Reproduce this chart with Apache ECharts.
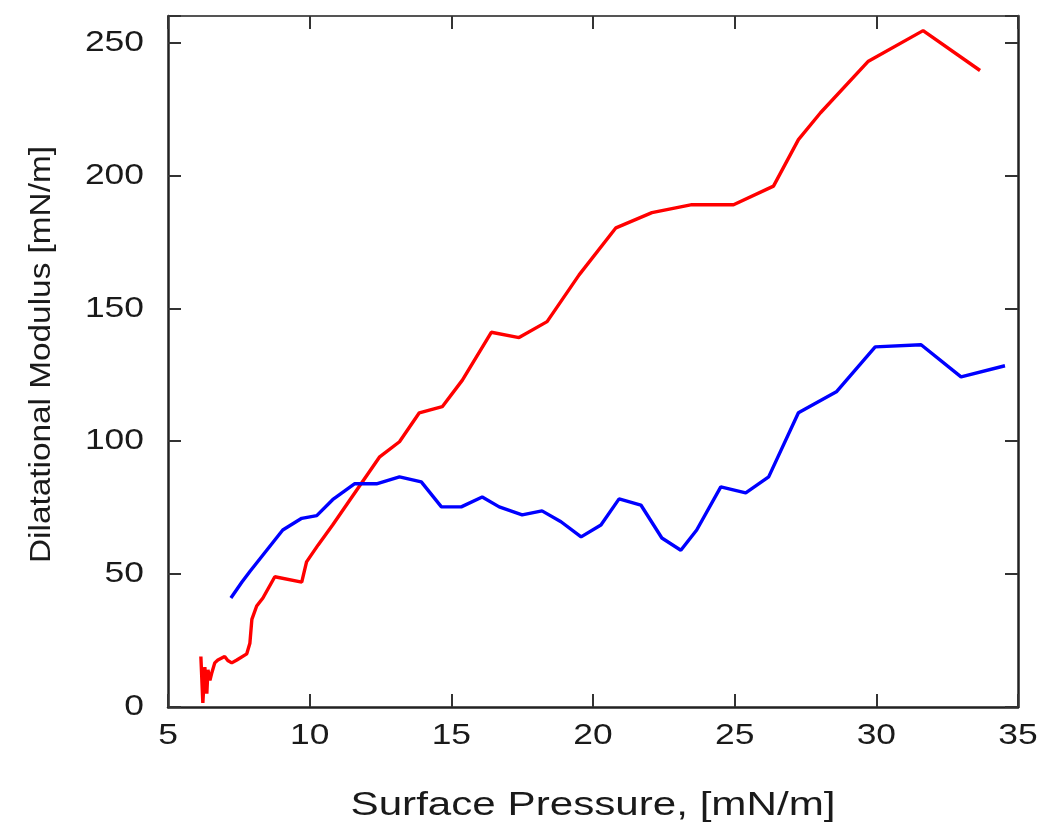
<!DOCTYPE html>
<html><head><meta charset="utf-8">
<script src="https://cdn.jsdelivr.net/npm/echarts@6/dist/echarts.min.js"></script>
<style>html,body{margin:0;padding:0;background:#fff}#c{width:1041px;height:822px}</style>
</head><body><div id="c"></div>
<script>
const xTicks = [5, 10, 15, 20, 25, 30, 35];
const yTicks = [0, 50, 100, 150, 200, 250];
const xTitle = 'Surface Pressure, [mN/m]';
const yTitle = 'Dilatational Modulus [mN/m]';
const redX = [6.16, 6.23, 6.30, 6.37, 6.41, 6.48, 6.55, 6.65, 6.76, 7.0, 7.11, 7.25, 7.43, 7.78, 7.89, 7.96, 8.13, 8.35, 8.77, 9.72, 9.89, 10.3, 10.81, 12.46, 13.17, 13.87, 14.68, 15.39, 16.41, 17.39, 18.38, 19.51, 20.81, 22.08, 23.49, 24.96, 26.37, 27.25, 28.03, 29.72, 31.65, 33.66];
const redY = [19, 1.5, 15, 5, 14, 10, 13, 16.6, 17.7, 19, 17.5, 16.6, 17.7, 20, 24, 33, 38, 41, 49, 47, 54.6, 61, 68.5, 94, 99.8, 110.7, 113, 123, 141, 139, 145, 162.6, 180.3, 186, 189, 189, 196, 213.5, 223.6, 243, 254.5, 239.5];
const blueX = [7.22, 7.61, 7.89, 9.05, 9.72, 10.25, 10.81, 11.58, 12.36, 13.17, 13.94, 14.65, 15.35, 16.09, 16.69, 17.5, 18.2, 18.87, 19.58, 20.28, 20.92, 21.69, 22.43, 23.1, 23.66, 24.51, 25.39, 26.2, 27.25, 28.59, 29.96, 31.58, 32.99, 34.54];
const blueY = [41, 47, 51, 66.6, 71, 72, 78, 84, 84, 86.6, 84.7, 75.3, 75.3, 79, 75.3, 72.3, 73.8, 69.7, 64, 68.5, 78.3, 76, 63.6, 59, 66.6, 82.8, 80.6, 86.6, 110.7, 118.6, 135.5, 136.3, 124.2, 128.4];

const zip = (xs, ys) => xs.map((x, i) => [x, ys[i]]);
const font = '"Liberation Sans", Arial, sans-serif';
const ink = '#1a1a1a';
const lineStyle = {color: '#222', width: 2.5};
const tickIn = {inside: true, length: 13, lineStyle: {color: '#333', width: 2}};

const chart = echarts.init(document.getElementById('c'));
chart.setOption({
  animation: false,
  grid: {left: 168, right: 23, top: 16, bottom: 115},
  xAxis: [{
    type: 'value', min: 5, max: 35, interval: 5,
    axisLine: {show: true, onZero: false, lineStyle},
    axisTick: tickIn, splitLine: {show: false}, axisLabel: {show: false}
  }, {
    type: 'value', min: 5, max: 35, interval: 5, position: 'top',
    axisLine: {show: true, onZero: false, lineStyle: {color: '#555', width: 2}},
    axisTick: tickIn, axisLabel: {show: false}, splitLine: {show: false}
  }],
  yAxis: [{
    type: 'value', min: 0, max: 260, interval: 50,
    axisLine: {show: true, onZero: false, lineStyle},
    axisTick: tickIn, splitLine: {show: false}, axisLabel: {show: false}
  }, {
    type: 'value', min: 0, max: 260, interval: 50, position: 'right',
    axisLine: {show: true, onZero: false, lineStyle},
    axisTick: tickIn, axisLabel: {show: false}, splitLine: {show: false}
  }],
  series: [{
    type: 'line', data: zip(redX, redY), showSymbol: false, symbol: 'none',
    lineStyle: {color: '#ff0000', width: 3.4}
  }, {
    type: 'line', data: zip(blueX, blueY), showSymbol: false, symbol: 'none',
    lineStyle: {color: '#0000ff', width: 3.4}
  }]
});

// Tick labels and axis titles as (horizontally widened) text placed via the axes' own scales
const graphics = [];
const px = (x, y) => chart.convertToPixel({xAxisIndex: 0, yAxisIndex: 0}, [x, y]);
const base = px(xTicks[0], yTicks[0]);
yTicks.forEach(v => {
  const p = px(xTicks[0], v);
  graphics.push({type: 'text', x: p[0] - 24, y: p[1], scaleX: 1.18,
    style: {text: String(v), fontSize: 30, fontFamily: font, fill: ink, align: 'right', verticalAlign: 'middle'}});
});
xTicks.forEach(v => {
  const p = px(v, yTicks[0]);
  graphics.push({type: 'text', x: p[0], y: p[1] + 29, scaleX: 1.18,
    style: {text: String(v), fontSize: 30, fontFamily: font, fill: ink, align: 'center', verticalAlign: 'middle'}});
});
const gridRight = px(xTicks[xTicks.length - 1], 0)[0];
const gridTop = px(5, 260)[1];
graphics.push({type: 'text', x: (base[0] + gridRight) / 2, y: base[1] + 99, scaleX: 1.24,
  style: {text: xTitle, fontSize: 34, fontFamily: font, fill: ink, align: 'center', verticalAlign: 'middle'}});
graphics.push({type: 'text', x: 42, y: (base[1] + gridTop) / 2 - 7, rotation: Math.PI / 2, scaleX: 1.15,
  style: {text: yTitle, fontSize: 29, fontFamily: font, fill: ink, align: 'center', verticalAlign: 'middle'}});
chart.setOption({graphic: graphics});
</script></body></html>
